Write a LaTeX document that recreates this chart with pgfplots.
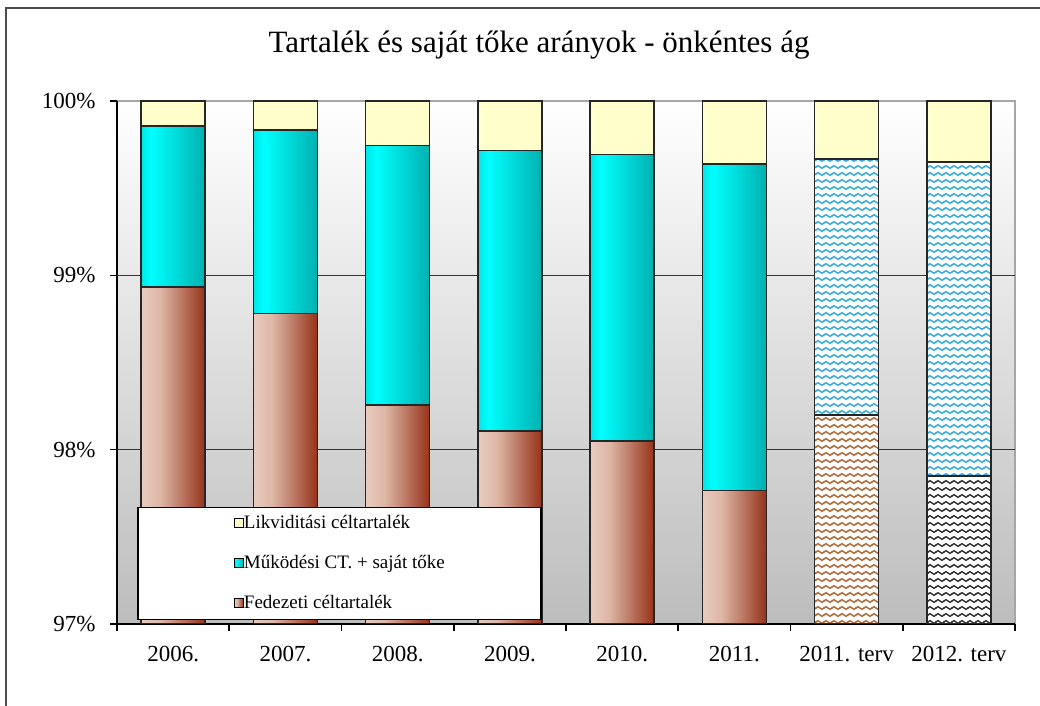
\documentclass[border=0pt]{standalone}
\usepackage{pgfplots}
\pgfplotsset{compat=1.18}
\usetikzlibrary{patterns}
\usepackage{fontspec}
\setmainfont{Liberation Serif}

\definecolor{likv}{HTML}{FFFFCC}
\definecolor{mukA}{HTML}{00E6E6}
\definecolor{mukB}{HTML}{00FFFF}
\definecolor{mukC}{HTML}{00B0B0}
\definecolor{fedA}{HTML}{E9CBBE}
\definecolor{fedB}{HTML}{DDB6A6}
\definecolor{fedC}{HTML}{963219}
\definecolor{wavecyan}{HTML}{28A8E4}
\definecolor{wavebrown}{HTML}{B0622A}
\definecolor{waveblack}{HTML}{2A2A2A}

\pgfdeclarehorizontalshading{fedshade}{100bp}{color(0bp)=(fedA); color(25bp)=(fedA); color(40bp)=(fedB); color(75bp)=(fedC); color(100bp)=(fedC)}
\pgfdeclarehorizontalshading{mukshade}{100bp}{color(0bp)=(mukA); color(25bp)=(mukA); color(33bp)=(mukB); color(75bp)=(mukC); color(100bp)=(mukC)}

% wavy line pattern of the plan bars
\pgfdeclarepatternformonly{wavy}{\pgfqpoint{-0.5pt}{-1.5pt}}{\pgfqpoint{4.5pt}{1.5pt}}{\pgfqpoint{4pt}{3.5pt}}{
  \pgfsetlinewidth{0.65pt}
  \pgfpathmoveto{\pgfqpoint{-0.2pt}{-0.15pt}}
  \pgfpathcurveto{\pgfqpoint{0.6pt}{0.95pt}}{\pgfqpoint{1.4pt}{0.95pt}}{\pgfqpoint{2pt}{0pt}}
  \pgfpathcurveto{\pgfqpoint{2.6pt}{-0.95pt}}{\pgfqpoint{3.4pt}{-0.95pt}}{\pgfqpoint{4.2pt}{0.15pt}}
  \pgfusepath{stroke}
}

\begin{document}
\begin{tikzpicture}
\useasboundingbox (0,0) rectangle (520pt,353pt);
\draw[line width=1pt, black!70] (3pt,0) -- (3pt,349pt) -- (520pt,349pt);
\begin{axis}[
    at={(58.5pt,41pt)}, anchor=south west,
    scale only axis,
    width=449pt, height=261.5pt,
    xmin=-0.5, xmax=7.5,
    ymin=97, ymax=100,
    axis lines=left,
    axis line style={-, black, line width=0.8pt},
    axis background/.style={top color=white, bottom color=black!26, draw=black!35, line width=0.8pt},
    ytick={97,98,99,100},
    yticklabels={\textrm{97\%},\textrm{98\%},\textrm{99\%},\textrm{100\%}},
    extra y ticks={98,99},
    extra y tick labels={},
    extra y tick style={grid=major, grid style={black!80, line width=0.8pt}},
    xtick={-0.5,0.5,...,7.5},
    xticklabels={},
    extra x ticks={0,1,2,3,4,5,6,7},
    extra x tick labels={2006.,2007.,2008.,2009.,2010.,2011.,2011. terv,2012. terv},
    extra x tick style={major tick length=0pt},
    tick align=outside,
    major tick length=3.5pt,
    tick style={black, line width=0.8pt},
    tick label style={font=\fontsize{11.5}{13}\selectfont},
    xticklabel style={yshift=-7.5pt},
    yticklabel style={xshift=-3.7pt},
    title={Tartalék és saját tőke arányok - önkéntes ág},
    title style={at={(0.5,1)}, anchor=center, yshift=22pt, xshift=-13.5pt, font=\fontsize{15.5}{17}\selectfont},
    clip=true,
    bar width=0.57,
    barstyle/.style={ybar, bar shift=0pt, draw=black!85, line width=0.8pt, forget plot},
    muk/.style={barstyle, shade, shading=mukshade},
    fed/.style={barstyle, shade, shading=fedshade},
    legend image code/.code={\draw[#1, line width=0.6pt, draw=black] (0pt,-2.25pt) rectangle (4.5pt,2.25pt);},
    legend style={at={(0.0223,0.0076)}, anchor=south west, draw=black, line width=0.75pt, fill=white,
        inner xsep=48pt, inner ysep=3.5pt, row sep=11pt, font=\fontsize{9.5}{11}\selectfont,
        nodes={inner sep=0pt, text height=7pt, text depth=2pt}},
    legend cell align=left,
]
% Likviditási céltartalék (up to 100%)
\addplot[barstyle, fill=likv] coordinates {
    (0,100) (1,100) (2,100) (3,100) (4,100) (5,100) (6,100) (7,100)
};
% Működési CT. + saját tőke (cumulative top), one plot per bar so each is shaded
\addplot[muk] coordinates {(0,99.856)};
\addplot[muk] coordinates {(1,99.833)};
\addplot[muk] coordinates {(2,99.744)};
\addplot[muk] coordinates {(3,99.716)};
\addplot[muk] coordinates {(4,99.692)};
\addplot[muk] coordinates {(5,99.640)};
\addplot[barstyle, fill=white, draw=none] coordinates {(6,99.667) (7,99.650)};
\addplot[barstyle, pattern=wavy, pattern color=wavecyan] coordinates {(6,99.667) (7,99.650)};
% Fedezeti céltartalék
\addplot[fed] coordinates {(0,98.932)};
\addplot[fed] coordinates {(1,98.780)};
\addplot[fed] coordinates {(2,98.256)};
\addplot[fed] coordinates {(3,98.106)};
\addplot[fed] coordinates {(4,98.048)};
\addplot[fed] coordinates {(5,97.765)};
\addplot[barstyle, fill=white, draw=none] coordinates {(6,98.200) (7,97.848)};
\addplot[barstyle, pattern=wavy, pattern color=wavebrown] coordinates {(6,98.200)};
\addplot[barstyle, pattern=wavy, pattern color=waveblack] coordinates {(7,97.848)};

\addlegendimage{fill=likv}
\addlegendentry{Likviditási céltartalék}
\addlegendimage{shade, shading=mukshade}
\addlegendentry{Működési CT. + saját tőke}
\addlegendimage{shade, shading=fedshade}
\addlegendentry{Fedezeti céltartalék}
\end{axis}
\end{tikzpicture}
\end{document}
